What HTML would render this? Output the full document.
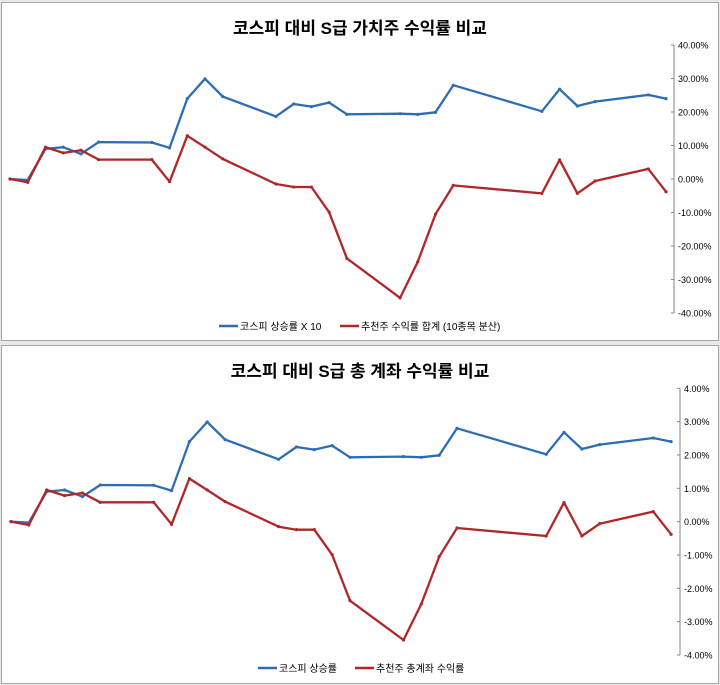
<!DOCTYPE html>
<html><head><meta charset="utf-8">
<style>
body{margin:0;width:720px;height:685px;background:#fff;overflow:hidden;font-family:"Liberation Sans","Noto Sans CJK KR",sans-serif;}
svg{display:block}
</style></head>
<body>
<svg id="svg" width="720" height="685" xmlns="http://www.w3.org/2000/svg">
<rect x="0" y="0" width="720" height="685" fill="#e8e8e8"/>
<rect x="1.5" y="2.5" width="717" height="338" fill="#fff" stroke="#a6a6a6"/>
<rect x="1.5" y="345.5" width="717" height="338" fill="#fff" stroke="#a6a6a6"/>
<text x="360" y="34" text-anchor="middle" font-size="17" font-weight="bold" fill="#000">코스피 대비 S급 가치주 수익률 비교</text>
<text x="360" y="377" text-anchor="middle" font-size="17" font-weight="bold" fill="#000">코스피 대비 S급 총 계좌 수익률 비교</text>
<g id="g1"></g><g id="g2"></g>
<g>
<line x1="219" y1="326" x2="238" y2="326" stroke="#2e6db4" stroke-width="2.5"/>
<text x="240" y="330" font-size="10" fill="#000">코스피 상승률 X 10</text>
<line x1="340" y1="326" x2="359" y2="326" stroke="#b0272a" stroke-width="2.5"/>
<text x="361" y="330" font-size="10" fill="#000">추천주 수익률 합계 (10종목 분산)</text>
</g>
<g>
<line x1="258" y1="668" x2="277" y2="668" stroke="#2e6db4" stroke-width="2.5"/>
<text x="279" y="672" font-size="10" fill="#000">코스피 상승률</text>
<line x1="355" y1="668" x2="374" y2="668" stroke="#b0272a" stroke-width="2.5"/>
<text x="376" y="672" font-size="10" fill="#000">추천주 총계좌 수익률</text>
</g>
</svg>
<script>
const dayIndex=[0,1,2,3,4,5,8,9,10,11,12,15,16,17,18,19,22,23,24,25,30,31,32,33,36,37];
const kospiTop=[0,-0.3,9,9.5,7.5,11,10.9,9.3,24,29.9,24.6,18.7,22.4,21.6,22.8,19.3,19.5,19.3,19.9,28,20.2,26.8,21.8,23.1,25.1,24];
const picksTop=[0,-1,9.5,7.8,8.6,5.8,5.8,-0.8,12.9,9.5,6,-1.5,-2.4,-2.4,-9.9,-23.7,-35.5,-24.7,-10.5,-1.9,-4.3,5.7,-4.3,-0.6,3,-3.8];
const kospiBottom=[0,-0.03,0.9,0.95,0.75,1.1,1.09,0.93,2.4,2.99,2.46,1.87,2.24,2.16,2.28,1.93,1.95,1.93,1.99,2.8,2.02,2.68,2.18,2.31,2.51,2.4];
const accountBottom=[0,-0.1,0.95,0.78,0.86,0.58,0.58,-0.08,1.29,0.95,0.6,-0.15,-0.24,-0.24,-0.99,-2.37,-3.55,-2.47,-1.05,-0.19,-0.43,0.57,-0.43,-0.06,0.3,-0.38];
const topTicks=[40,30,20,10,0,-10,-20,-30,-40];
const bottomTicks=[4,3,2,1,0,-1,-2,-3,-4];
const NS="http://www.w3.org/2000/svg";
function mk(t,a,p){const e=document.createElementNS(NS,t);for(const k in a)e.setAttribute(k,a[k]);p.appendChild(e);return e;}
function chart(g,cfg){
  const x=i=>cfg.x0+i*cfg.dx;
  const y=v=>cfg.yTop+(cfg.max-v)/(cfg.max-cfg.min)*(cfg.yBot-cfg.yTop);
  const ax=mk('line',{x1:cfg.axX,y1:y(cfg.max),x2:cfg.axX,y2:y(cfg.min),stroke:'#868686','stroke-width':1},g);
  
  
  cfg.ticks.forEach(t=>{
    const tk=mk('line',{x1:cfg.axX-3,y1:y(t),x2:cfg.axX,y2:y(t),stroke:'#868686'},g);
    
    
    const tx=mk('text',{x:cfg.axX+4,y:y(t)+3.5,'font-size':9,fill:'#000'},g);
    tx.textContent=t.toFixed(2)+'%';
    
    
  });
  cfg.series.forEach(s=>{
    const pts=s.vals.map((v,i)=>x(dayIndex[i]).toFixed(1)+','+y(v).toFixed(1)).join(' ');
    const pl=mk('polyline',{points:pts,fill:'none',stroke:s.color,'stroke-width':2.3,'stroke-linejoin':'round'},g);
    
    
    s.vals.forEach((v,i)=>{
      const c=mk('circle',{cx:x(dayIndex[i]),cy:y(v),r:1.6,fill:s.color},g);
      
      
    });
  });
}
chart(document.getElementById('g1'),{x0:10,dx:17.73,yTop:45,yBot:313,max:40,min:-40,axX:674,ticks:topTicks,
  series:[{vals:kospiTop,color:'#2e6db4',name:'kospi-line'},{vals:picksTop,color:'#b0272a',name:'picks-line'}]});
chart(document.getElementById('g2'),{x0:11,dx:17.84,yTop:388.3,yBot:655,max:4,min:-4,axX:680,ticks:bottomTicks,
  series:[{vals:kospiBottom,color:'#2e6db4',name:'kospi-line-bottom'},{vals:accountBottom,color:'#b0272a',name:'account-line'}]});
</script>
</body></html>
